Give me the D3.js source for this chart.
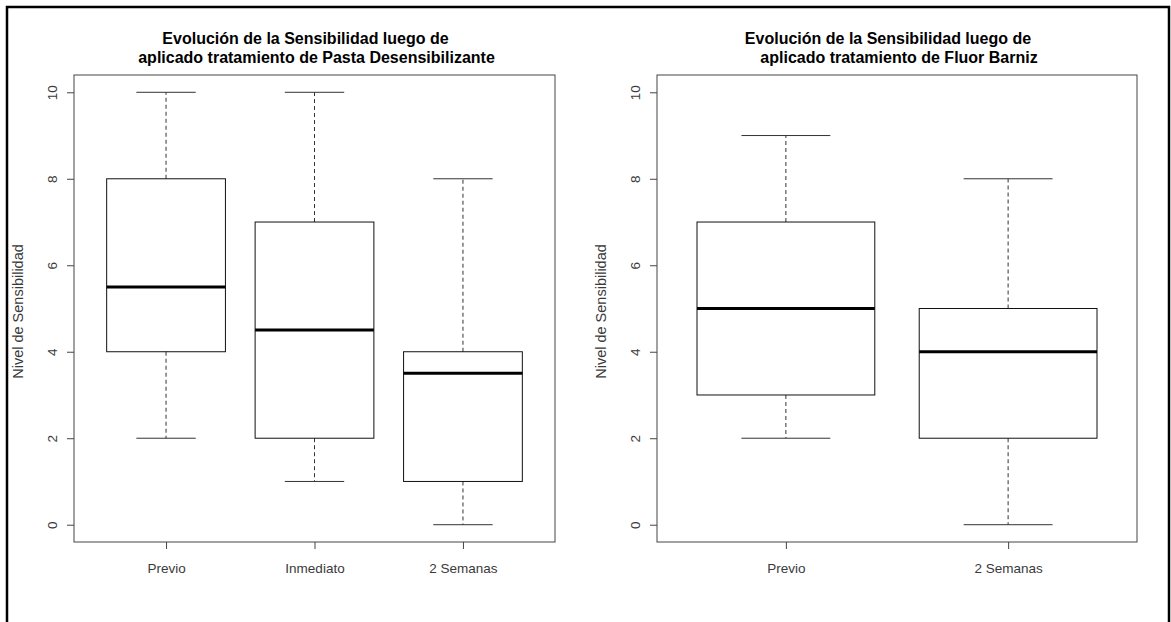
<!DOCTYPE html>
<html>
<head>
<meta charset="utf-8">
<script src="https://cdn.jsdelivr.net/npm/d3@7"></script>
<style>
  html, body { margin: 0; padding: 0; background: #fff; }
  svg { display: block; font-family: "Liberation Sans", Arial, sans-serif; }
</style>
</head>
<body>
<svg id="chart" width="1171" height="622"></svg>
<script>
// ---- data ----
const yTicks = [0, 2, 4, 6, 8, 10];
const yLabel = "Nivel de Sensibilidad";

const leftTitle = ["Evolución de la Sensibilidad luego de", "aplicado tratamiento de Pasta Desensibilizante"];
const leftCategories = ["Previo", "Inmediato", "2 Semanas"];
const leftMin    = [2, 1, 0];
const leftQ1     = [4, 2, 1];
const leftMedian = [5.5, 4.5, 3.5];
const leftQ3     = [8, 7, 4];
const leftMax    = [10, 10, 8];

const rightTitle = ["Evolución de la Sensibilidad luego de", "aplicado tratamiento de Fluor Barniz"];
const rightCategories = ["Previo", "2 Semanas"];
const rightMin    = [2, 0];
const rightQ1     = [3, 2];
const rightMedian = [5, 4];
const rightQ3     = [7, 5];
const rightMax    = [9, 8];

// ---- drawing ----
const svg = d3.select("#chart");

// outer frame
svg.append("rect")
  .attr("x", 7).attr("y", 7)
  .attr("width", 1162).attr("height", 800)
  .attr("fill", "none").attr("stroke", "#000").attr("stroke-width", 2.5);

const plotTop = 75, plotBottom = 542;
const y = d3.scaleLinear().domain([-0.4, 10.4]).range([plotBottom, plotTop]);

function panel(cfg) {
  const n = cfg.categories.length;
  const x = d3.scaleLinear()
    .domain([0.5 - 0.04 * n, n + 0.5 + 0.04 * n])
    .range([cfg.left, cfg.right]);
  const g = svg.append("g");
  const unit = x(2) - x(1);
  const boxHalf = 0.4 * unit, stapleHalf = 0.2 * unit;

  const data = cfg.categories.map((c, i) => ({
    c, pos: i + 1,
    min: cfg.min[i], q1: cfg.q1[i], med: cfg.median[i], q3: cfg.q3[i], max: cfg.max[i]
  }));

  const b = g.selectAll("g.box").data(data).enter().append("g").attr("class", "box");
  // whiskers (dashed)
  b.append("line")
    .attr("x1", d => x(d.pos)).attr("x2", d => x(d.pos))
    .attr("y1", d => y(d.q3)).attr("y2", d => y(d.max))
    .attr("stroke", "#333").attr("stroke-dasharray", "4,3");
  b.append("line")
    .attr("x1", d => x(d.pos)).attr("x2", d => x(d.pos))
    .attr("y1", d => y(d.q1)).attr("y2", d => y(d.min))
    .attr("stroke", "#333").attr("stroke-dasharray", "4,3");
  // staples
  b.append("line")
    .attr("x1", d => x(d.pos) - stapleHalf).attr("x2", d => x(d.pos) + stapleHalf)
    .attr("y1", d => y(d.max)).attr("y2", d => y(d.max))
    .attr("stroke", "#333");
  b.append("line")
    .attr("x1", d => x(d.pos) - stapleHalf).attr("x2", d => x(d.pos) + stapleHalf)
    .attr("y1", d => y(d.min)).attr("y2", d => y(d.min))
    .attr("stroke", "#333");
  // box
  b.append("rect")
    .attr("x", d => x(d.pos) - boxHalf).attr("width", 2 * boxHalf)
    .attr("y", d => y(d.q3)).attr("height", d => y(d.q1) - y(d.q3))
    .attr("fill", "none").attr("stroke", "#111");
  // median
  b.append("line")
    .attr("x1", d => x(d.pos) - boxHalf).attr("x2", d => x(d.pos) + boxHalf)
    .attr("y1", d => y(d.med)).attr("y2", d => y(d.med))
    .attr("stroke", "#000").attr("stroke-width", 3);

  // plot box
  g.append("rect")
    .attr("x", cfg.left).attr("y", plotTop)
    .attr("width", cfg.right - cfg.left).attr("height", plotBottom - plotTop)
    .attr("fill", "none").attr("stroke", "#444");

  // y axis
  const ya = g.append("g").attr("transform", `translate(${cfg.left},0)`)
    .call(d3.axisLeft(y).tickValues(yTicks).tickSize(7).tickPadding(0).tickFormat(d3.format("d")));
  ya.select(".domain").remove();
  ya.selectAll(".tick line").attr("stroke", "#444");
  ya.selectAll(".tick text")
    .attr("x", null).attr("dy", null)
    .attr("transform", "translate(-17,0) rotate(-90)")
    .attr("text-anchor", "middle")
    .attr("font-size", 13.5).attr("fill", "#3a3a3a")
    .attr("font-family", "Liberation Sans, Arial, sans-serif");

  // x axis
  const xa = g.append("g").attr("transform", `translate(0,${plotBottom})`)
    .call(d3.axisBottom(x).tickValues(d3.range(1, n + 1)).tickSize(7).tickPadding(0)
      .tickFormat(d => cfg.categories[d - 1]));
  xa.select(".domain").remove();
  xa.selectAll(".tick line").attr("stroke", "#444");
  xa.selectAll(".tick text")
    .attr("y", 31).attr("dy", null)
    .attr("font-size", 13.5).attr("fill", "#3a3a3a")
    .attr("font-family", "Liberation Sans, Arial, sans-serif");

  // y label
  const cy = (plotTop + plotBottom) / 2;
  g.append("text")
    .attr("transform", `translate(${cfg.left - 51},${cy + 3}) rotate(-90)`)
    .attr("text-anchor", "middle").attr("font-size", 14.5).attr("fill", "#3a3a3a")
    .text(yLabel);

  // title
  const cx = (cfg.left + cfg.right) / 2;
  const offsets = [-9, 2];
  cfg.title.forEach((t, i) => {
    g.append("text")
      .attr("x", cx + offsets[i]).attr("y", 44 + i * 19)
      .attr("text-anchor", "middle").attr("font-size", 16)
      .attr("font-weight", "bold").attr("fill", "#000")
      .text(t);
  });
}

panel({ left: 74, right: 555, categories: leftCategories, min: leftMin, q1: leftQ1,
        median: leftMedian, q3: leftQ3, max: leftMax, title: leftTitle });
panel({ left: 657, right: 1137, categories: rightCategories, min: rightMin, q1: rightQ1,
        median: rightMedian, q3: rightQ3, max: rightMax, title: rightTitle });
</script>
</body>
</html>
